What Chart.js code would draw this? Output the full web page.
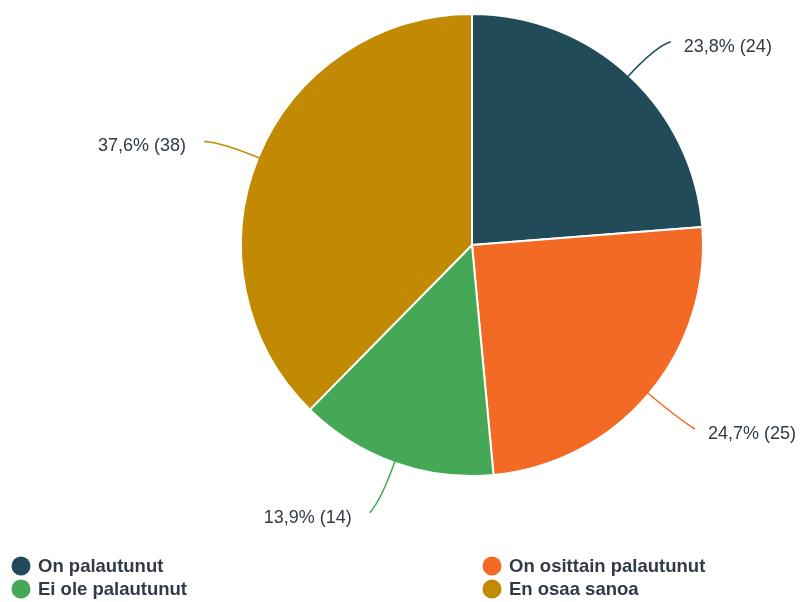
<!DOCTYPE html>
<html>
<head>
<meta charset="utf-8">
<script src="https://cdn.jsdelivr.net/npm/chart.js@4"></script>
<style>
  html, body { margin:0; padding:0; background:#fff; }
  #wrap { width:804px; height:602px; position:relative; }
</style>
</head>
<body>
<div id="wrap"><canvas id="pie" width="804" height="602"></canvas></div>
<script>
// answer categories and counts
const categories = ['On palautunut', 'On osittain palautunut', 'Ei ole palautunut', 'En osaa sanoa'];
const counts = [24, 25, 14, 38];
const percents = [23.8, 24.7, 13.9, 37.6];
const sliceColors = ['#224b5a', '#f26a23', '#44a856', '#c18a02'];

const textColor = '#323a46';

// outside labels with curved leader lines
const outsideLabels = {
  id: 'outsideLabels',
  afterDatasetsDraw(chart){
    const ctx = chart.ctx;
    const meta = chart.getDatasetMeta(0);
    ctx.save();
    ctx.font = '18px "Liberation Sans", Arial, sans-serif';
    ctx.textBaseline = 'middle';
    meta.data.forEach((arc, i) => {
      const mid = (arc.startAngle + arc.endAngle) / 2;
      const r = arc.outerRadius;
      const cx = arc.x, cy = arc.y;
      const cos = Math.cos(mid), sin = Math.sin(mid);
      const right = cos >= 0;
      const sx = cx + cos * (r - 2), sy = cy + sin * (r - 2);
      const qx = cx + cos * (r + 40), qy = cy + sin * (r + 40);
      const ex = cx + cos * (r + 50) + (right ? 8 : -8), ey = cy + sin * (r + 50) + 3;
      ctx.strokeStyle = sliceColors[i];
      ctx.lineWidth = 1.5;
      ctx.beginPath();
      ctx.moveTo(sx, sy);
      ctx.quadraticCurveTo(qx, qy, ex, ey);
      ctx.stroke();
      ctx.fillStyle = textColor;
      ctx.textAlign = right ? 'left' : 'right';
      const txt = percents[i].toFixed(1).replace('.', ',') + '% (' + counts[i] + ')';
      ctx.fillText(txt, ex + (right ? 13 : -18), ey + 5);
    });
    ctx.restore();
  }
};

// two-column legend below the pie
const bottomLegend = {
  id: 'bottomLegend',
  afterDraw(chart){
    const ctx = chart.ctx;
    ctx.save();
    ctx.font = 'bold 18.5px "Liberation Sans", Arial, sans-serif';
    ctx.textBaseline = 'middle';
    ctx.textAlign = 'left';
    const cols = [21, 492];
    const rows = [566, 589];
    const order = [0, 2, 1, 3]; // column-major: left col then right col
    order.forEach((idx, k) => {
      const x = cols[Math.floor(k / 2)], y = rows[k % 2];
      ctx.fillStyle = sliceColors[idx];
      ctx.beginPath();
      ctx.arc(x, y, 9.5, 0, Math.PI * 2);
      ctx.fill();
      ctx.fillStyle = textColor;
      ctx.fillText(categories[idx], x + 17, y + 1);
    });
    ctx.restore();
  }
};

new Chart(document.getElementById('pie'), {
  type: 'pie',
  data: {
    labels: categories,
    datasets: [{
      data: counts,
      backgroundColor: sliceColors,
      borderColor: '#ffffff',
      borderWidth: 2
    }]
  },
  options: {
    responsive: false,
    animation: false,
    layout: { padding: { top: 13, bottom: 125, left: 240, right: 100 } },
    plugins: { legend: { display: false }, tooltip: { enabled: false } }
  },
  plugins: [outsideLabels, bottomLegend]
});
</script>
</body>
</html>
